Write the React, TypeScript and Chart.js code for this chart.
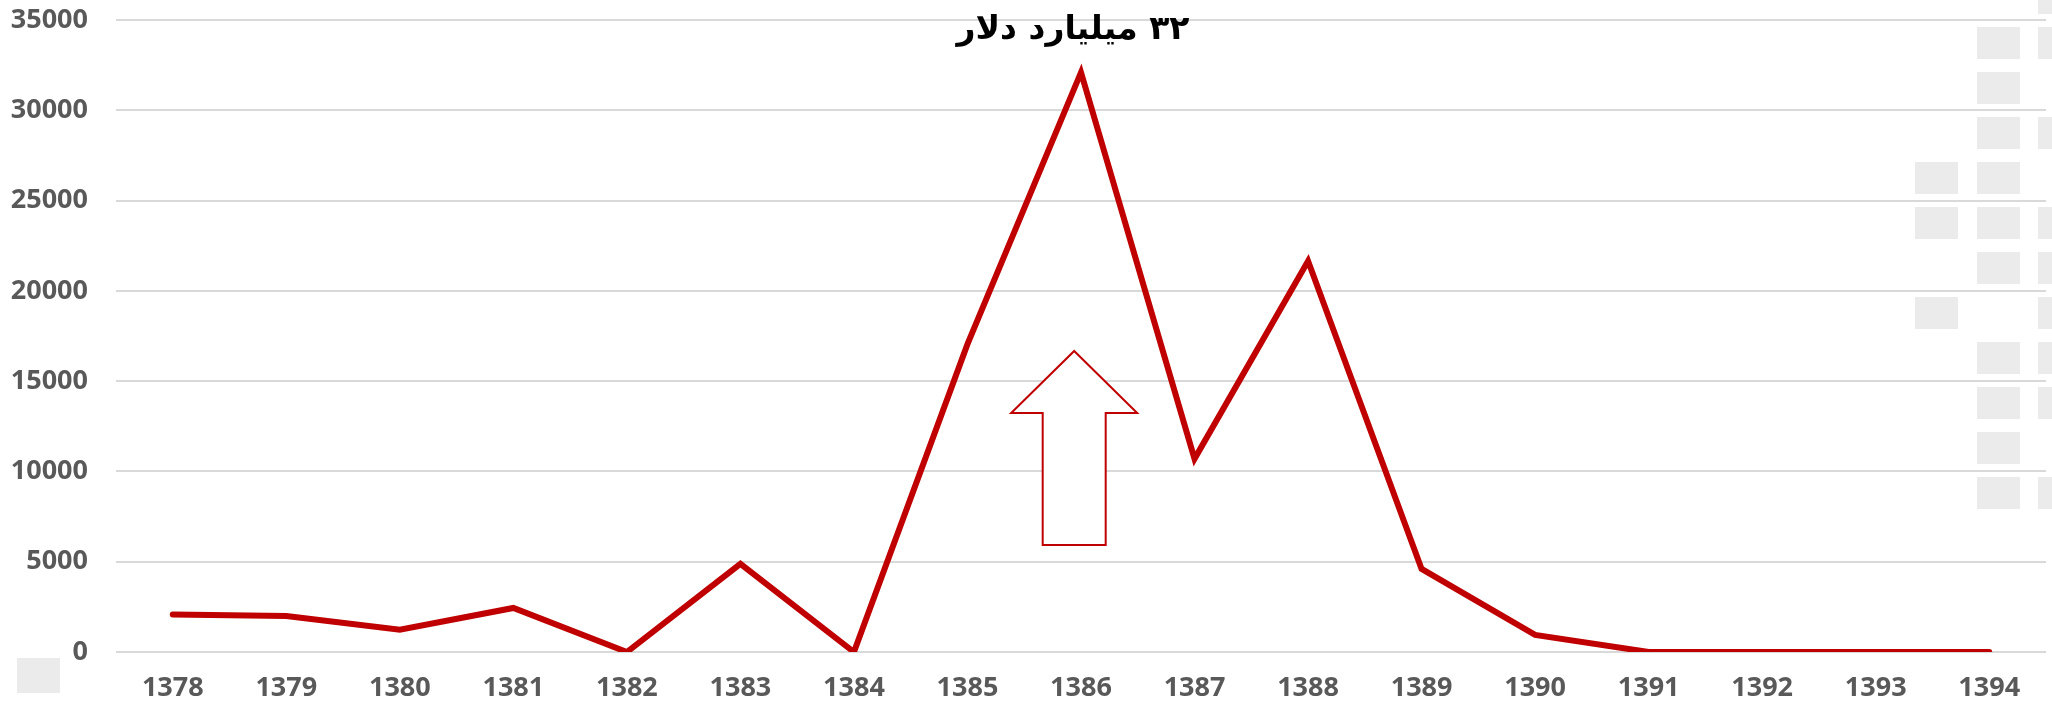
import React, { useEffect, useRef } from "react";
import { Chart, registerables } from "chart.js";

Chart.register(...registerables);

const years = ["1378", "1379", "1380", "1381", "1382", "1383", "1384", "1385", "1386", "1387", "1388", "1389", "1390", "1391", "1392", "1393", "1394"];
const values = [2080, 1990, 1230, 2440, 0, 4880, 0, 17050, 32100, 10700, 21650, 4600, 950, 0, 0, 0, 0];
const yTicks = [0, 5000, 10000, 15000, 20000, 25000, 30000, 35000];
const titleText = "۳۲ میلیارد دلار";
// arrow annotation in data units (category index, value)
const arrowIndex = 7.94;
const arrowTip = 16670;
const arrowHeadBase = 13240;
const arrowBottom = 5930;

const RED = "#C00000";

const decoPlugin = {
  id: "deco",
  beforeDraw(chart: any) {
    const ctx = chart.ctx;
    ctx.save();
    ctx.fillStyle = "#ffffff";
    ctx.fillRect(0, 0, chart.width, chart.height);
    ctx.fillStyle = "#ebebeb";
    const colA: number[] = [162, 207, 297];
    const colB: number[] = [27, 72, 117, 162, 207, 252, 342, 387, 432, 477];
    const colC: number[] = [-18, 27, 117, 207, 252, 297, 342, 387, 477];
    colA.forEach((y) => ctx.fillRect(1915, y, 43, 32));
    colB.forEach((y) => ctx.fillRect(1977, y, 43, 32));
    colC.forEach((y) => ctx.fillRect(2038, y, 43, 32));
    ctx.fillRect(17, 658, 43, 35);
    ctx.restore();
  },
};

const annotPlugin = {
  id: "annot",
  afterDatasetsDraw(chart: any) {
    const ctx = chart.ctx;
    const xs = chart.scales.x;
    const ys = chart.scales.y;
    ctx.save();
    // title above peak
    const peakX = xs.getPixelForValue(8);
    ctx.font = "bold 33px 'DejaVu Sans'";
    ctx.fillStyle = "#000000";
    ctx.textAlign = "center";
    ctx.textBaseline = "middle";
    ctx.direction = "rtl";
    ctx.fillText(titleText, peakX - 8, 30);
    // arrow
    const x0 = xs.getPixelForValue(0);
    const x1 = xs.getPixelForValue(1);
    const cx = x0 + (x1 - x0) * arrowIndex;
    const tipY = ys.getPixelForValue(arrowTip);
    const baseY = ys.getPixelForValue(arrowHeadBase);
    const botY = ys.getPixelForValue(arrowBottom);
    const hw = 63;
    const sw = 31.5;
    ctx.beginPath();
    ctx.moveTo(cx, tipY);
    ctx.lineTo(cx + hw, baseY);
    ctx.lineTo(cx + sw, baseY);
    ctx.lineTo(cx + sw, botY);
    ctx.lineTo(cx - sw, botY);
    ctx.lineTo(cx - sw, baseY);
    ctx.lineTo(cx - hw, baseY);
    ctx.closePath();
    ctx.fillStyle = "#ffffff";
    ctx.fill();
    ctx.strokeStyle = RED;
    ctx.lineWidth = 2;
    ctx.lineJoin = "miter";
    ctx.stroke();
    ctx.restore();
  },
};

export default function App() {
  const ref = useRef<HTMLCanvasElement>(null);
  useEffect(() => {
    if (!ref.current) return;
    const chart = new Chart(ref.current, {
      type: "line",
      data: {
        labels: years,
        datasets: [
          {
            data: values,
            borderColor: RED,
            borderWidth: 6,
            pointRadius: 0,
            fill: false,
            tension: 0,
            borderCapStyle: "round",
            borderJoinStyle: "miter",
          },
        ],
      },
      options: {
        animation: false,
        responsive: false,
        devicePixelRatio: 1,
        layout: { padding: { top: 20, right: 6, left: 0, bottom: 0 } },
        plugins: { legend: { display: false }, tooltip: { enabled: false } },
        scales: {
          x: {
            offset: true,
            grid: { display: false, drawTicks: false },
            border: { display: false },
            ticks: {
              color: "#595959",
              font: { family: "'Open Sans'", weight: "bold", size: 27 },
              padding: 20,
              maxRotation: 0,
              autoSkip: false,
            },
            afterFit(scale: any) {
              scale.height = 54;
              scale.paddingLeft = 0;
              scale.paddingRight = 0;
            },
          },
          y: {
            min: 0,
            max: 35000,
            afterBuildTicks(scale: any) {
              scale.ticks = yTicks.map((v) => ({ value: v }));
            },
            grid: { color: "#d9d9d9", lineWidth: 2, drawTicks: false },
            border: { display: false },
            ticks: {
              color: "#595959",
              font: { family: "'Open Sans'", weight: "bold", size: 27 },
              padding: 28,
              callback: (v: any) => String(v),
            },
            afterFit(scale: any) {
              scale.width = 116;
              scale.paddingTop = 0;
              scale.paddingBottom = 0;
            },
          },
        },
      },
      plugins: [decoPlugin, annotPlugin],
    });
    return () => chart.destroy();
  }, []);
  return (
    <div style={{ position: "absolute", left: 0, top: 0, width: 2052, height: 706, background: "#fff" }}>
      <canvas ref={ref} width={2052} height={706} style={{ width: 2052, height: 706 }} />
    </div>
  );
}
